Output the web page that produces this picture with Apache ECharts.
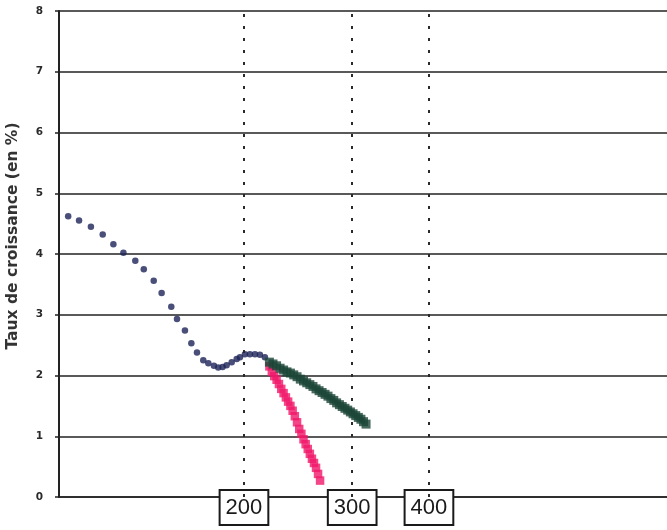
<!DOCTYPE html>
<html>
<head>
<meta charset="utf-8">
<script src="https://cdn.jsdelivr.net/npm/echarts@6/dist/echarts.min.js"></script>
<style>
html,body{margin:0;padding:0;background:#fff;}
#c{width:667px;height:530px;}
</style>
</head>
<body>
<div id="c"></div>
<script>
// Data (x on a log scale starting at 100, y = growth rate in %)
var blueX = [103.5,107.8,112.7,117.8,122.6,127.3,133.1,137.4,142.6,146.9,152.3,155.6,160.3,164.2,167.7,171.7,175.0,178.7,181.6,184.6,187.4,191.0,194.6,197.0,200.7,204.5,208.4,212.3,216.3];
var blueY = [4.62,4.55,4.45,4.32,4.16,4.02,3.89,3.75,3.56,3.36,3.13,2.93,2.74,2.53,2.38,2.25,2.20,2.16,2.13,2.14,2.17,2.22,2.27,2.30,2.35,2.35,2.35,2.34,2.30];
var greenX = [220,223,226,229,232,235,238,241,244,247,250,253,256,259,262,265,268,271,274,277,280,283,286,289,292,295,298,301,304,307,310,313,316];
var greenY = [2.22,2.19,2.16,2.12,2.09,2.06,2.04,2.01,1.98,1.94,1.91,1.88,1.85,1.82,1.78,1.75,1.72,1.69,1.66,1.62,1.59,1.55,1.52,1.49,1.46,1.43,1.40,1.37,1.34,1.31,1.28,1.24,1.20];
var pinkX = [220,222,224,226,228,230,232,234,236,238,240,242,244,246,248,250,252,254,256,258,260,262,264,266];
var pinkY = [2.15,2.06,1.99,1.93,1.86,1.78,1.71,1.64,1.57,1.50,1.42,1.33,1.23,1.12,1.04,0.95,0.87,0.79,0.71,0.63,0.56,0.48,0.38,0.27];
var markX = [200,300,400];
var xMin = 100, xMax = 976;
var yTicks = [0,1,2,3,4,5,6,7,8];
var yTitle = 'Taux de croissance (en %)';

function zip(a,b){ return a.map(function(v,i){ return [v,b[i]]; }); }

var chart = echarts.init(document.getElementById('c'), null, {renderer:'canvas'});
chart.setOption({
  animation:false,
  backgroundColor:'#fff',
  grid:{left:59, top:11, bottom:33, right:0, containLabel:false, outerBoundsMode:'none'},
  xAxis:{
    type:'log', logBase:10, min:xMin, max:xMax,
    axisLine:{show:true, lineStyle:{color:'#222', width:1.5}},
    axisTick:{show:false},
    splitLine:{show:false},
    axisLabel:{
      customValues: markX,
      formatter:function(v){ return String(Math.round(v)); },
      margin:-6,
      fontFamily:'Liberation Sans', fontSize:22, color:'#1a1a1a',
      backgroundColor:'#fff', borderColor:'#1a1a1a', borderWidth:2,
      padding:[6,5,5,5], lineHeight:22
    }
  },
  yAxis:{
    type:'value', min:yTicks[0], max:yTicks[yTicks.length-1], interval:1,
    name:yTitle, nameLocation:'middle', nameGap:38,
    nameTextStyle:{fontFamily:'DejaVu Sans', fontWeight:'bold', fontSize:15.5, color:'#333', padding:[0,0,0,36]},
    axisLine:{show:true, lineStyle:{color:'#222', width:2}},
    axisTick:{show:true, inside:false, length:4, lineStyle:{color:'#222', width:1.5}},
    axisLabel:{fontFamily:'DejaVu Sans', fontWeight:'bold', fontSize:10.5, color:'#2a2a2a', margin:16},
    splitLine:{show:true, lineStyle:{color:'#222', width:1.6}}
  },
  series:[
    {
      type:'scatter', name:'base', data:zip(blueX,blueY), symbol:'circle', symbolSize:6.5,
      itemStyle:{color:'#1c2357'}, z:3,
      markLine:{
        silent:true, symbol:'none',
        lineStyle:{type:[3,9], color:'#2a2a2a', width:2},
        label:{show:false},
        data: markX.map(function(v){ return {xAxis:v}; })
      }
    },
    {
      type:'scatter', name:'pink', data:zip(pinkX,pinkY), symbol:'rect', symbolSize:8.5,
      itemStyle:{color:'#f0186a'}, z:4
    },
    {
      type:'scatter', name:'green', data:zip(greenX,greenY), symbol:'rect', symbolSize:9,
      itemStyle:{color:'#1b4637'}, z:5
    }
  ]
});
</script>
</body>
</html>
